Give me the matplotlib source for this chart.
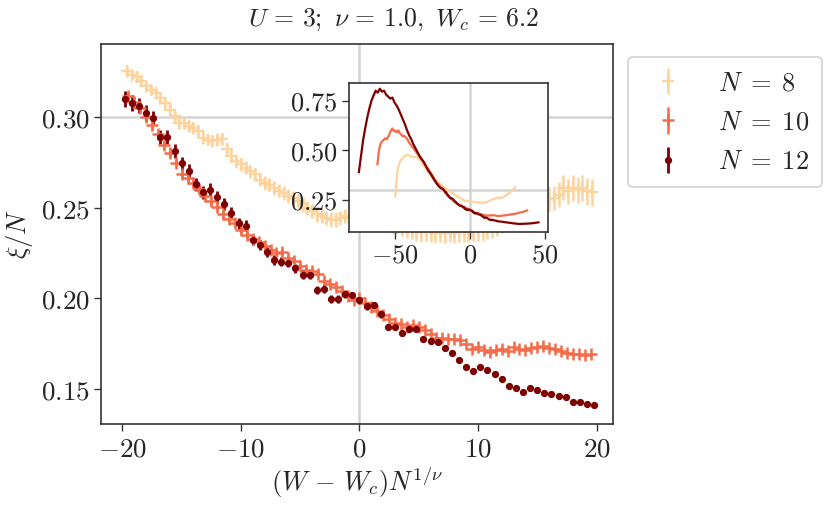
import matplotlib
matplotlib.use("Agg")
import matplotlib.pyplot as plt
from matplotlib.ticker import FixedLocator, FuncFormatter
import numpy as np

plt.rcParams["mathtext.fontset"] = "cm"
plt.rcParams["font.family"] = "serif"
plt.rcParams["font.serif"] = ["DejaVu Serif"]

# --- data ---------------------------------------------------------------
sizes = [8, 10, 12]
colors = ["#fdd49e", "#f46d4b", "#7f0000"]
labels = [r"$N\;=\;8$", r"$N\;=\;10$", r"$N\;=\;12$"]

# main panel: x = (W - Wc) N, W step 0.05 -> x step 0.05 N
x0 = {8: -19.6, 10: -19.5, 12: -19.8}

y8 = [0.3254, 0.3236, 0.3223, 0.3199, 0.3171, 0.3153, 0.3134, 0.3107, 0.3079, 0.3042,
      0.3005, 0.2969, 0.2969, 0.2950, 0.2941, 0.2923, 0.2886, 0.2877, 0.2867, 0.2877,
      0.2880, 0.2822, 0.2785, 0.2757, 0.2739, 0.2720, 0.2702, 0.2684, 0.2656, 0.2637,
      0.2628, 0.2610, 0.2595, 0.2582, 0.2564, 0.2554, 0.2536, 0.2518, 0.2500, 0.2481,
      0.2463, 0.2453, 0.2444, 0.2435, 0.2435, 0.2444, 0.2453, 0.2442, 0.2430, 0.2425,
      0.2420, 0.2418, 0.2415, 0.2410, 0.2408, 0.2405, 0.2400, 0.2398, 0.2390, 0.2380,
      0.2375, 0.2370, 0.2365, 0.2370, 0.2365, 0.2360, 0.2365, 0.2360, 0.2365, 0.2362,
      0.2368, 0.2370, 0.2365, 0.2372, 0.2375, 0.2378, 0.2385, 0.2392, 0.2405, 0.2420,
      0.2435, 0.2450, 0.2465, 0.2480, 0.2495, 0.2510, 0.2522, 0.2532, 0.2540, 0.2548,
      0.2555, 0.2573, 0.2610, 0.2591, 0.2610, 0.2600, 0.2610, 0.2591, 0.2585]
e8 = [0.0030, 0.0030, 0.0030, 0.0030, 0.0030, 0.0030, 0.0030, 0.0031, 0.0031, 0.0031,
      0.0031, 0.0032, 0.0032, 0.0032, 0.0032, 0.0033, 0.0033, 0.0033, 0.0033, 0.0034,
      0.0034, 0.0034, 0.0035, 0.0035, 0.0035, 0.0036, 0.0036, 0.0036, 0.0037, 0.0037,
      0.0037, 0.0038, 0.0038, 0.0038, 0.0039, 0.0039, 0.0040, 0.0040, 0.0040, 0.0040,
      0.0040, 0.0040, 0.0040, 0.0040, 0.0040, 0.0040, 0.0040, 0.0040, 0.0040, 0.0040,
      0.0040, 0.0040, 0.0040, 0.0040, 0.0040, 0.0040, 0.0042, 0.0044, 0.0046, 0.0048,
      0.0050, 0.0052, 0.0052, 0.0053, 0.0053, 0.0054, 0.0054, 0.0055, 0.0055, 0.0056,
      0.0056, 0.0057, 0.0057, 0.0058, 0.0058, 0.0059, 0.0059, 0.0059, 0.0060, 0.0060,
      0.0061, 0.0062, 0.0062, 0.0063, 0.0063, 0.0064, 0.0064, 0.0065, 0.0066, 0.0066,
      0.0067, 0.0068, 0.0069, 0.0070, 0.0071, 0.0072, 0.0073, 0.0074, 0.0075]

y10 = [0.3115, 0.3085, 0.3050, 0.3000, 0.2955, 0.2905, 0.2845, 0.2805, 0.2750, 0.2685,
       0.2665, 0.2635, 0.2605, 0.2565, 0.2535, 0.2505, 0.2465, 0.2440, 0.2415, 0.2375,
       0.2352, 0.2328, 0.2310, 0.2288, 0.2265, 0.2250, 0.2255, 0.2225, 0.2208, 0.2180,
       0.2158, 0.2150, 0.2135, 0.2095, 0.2078, 0.2060, 0.2040, 0.2015, 0.1990, 0.2000,
       0.1975, 0.1950, 0.1928, 0.1905, 0.1885, 0.1865, 0.1858, 0.1842, 0.1852, 0.1840,
       0.1825, 0.1805, 0.1782, 0.1778, 0.1772, 0.1772, 0.1770, 0.1745, 0.1722, 0.1730,
       0.1715, 0.1702, 0.1712, 0.1720, 0.1708, 0.1728, 0.1718, 0.1715, 0.1725, 0.1732,
       0.1735, 0.1725, 0.1718, 0.1710, 0.1698, 0.1690, 0.1690, 0.1686, 0.1690]
e10 = [0.0025, 0.0025, 0.0024, 0.0024, 0.0024, 0.0023, 0.0023, 0.0023, 0.0022, 0.0022,
       0.0022, 0.0021, 0.0021, 0.0021, 0.0020, 0.0020, 0.0020, 0.0019, 0.0019, 0.0019,
       0.0018, 0.0018, 0.0018, 0.0017, 0.0017, 0.0017, 0.0016, 0.0016, 0.0016, 0.0015,
       0.0015, 0.0015, 0.0014, 0.0014, 0.0014, 0.0013, 0.0013, 0.0013, 0.0012, 0.0012,
       0.0012, 0.0012, 0.0011, 0.0011, 0.0011, 0.0011, 0.0010, 0.0010, 0.0010, 0.0010,
       0.0010, 0.0009, 0.0009, 0.0009, 0.0009, 0.0009, 0.0009, 0.0009, 0.0008, 0.0008,
       0.0008, 0.0008, 0.0008, 0.0008, 0.0008, 0.0008, 0.0008, 0.0008, 0.0008, 0.0008,
       0.0008, 0.0008, 0.0008, 0.0008, 0.0008, 0.0008, 0.0008, 0.0008, 0.0008]

y12 = [0.3100, 0.3080, 0.3065, 0.3025, 0.2995, 0.2890, 0.2890, 0.2815, 0.2745, 0.2705,
       0.2630, 0.2585, 0.2600, 0.2560, 0.2522, 0.2472, 0.2415, 0.2401, 0.2323, 0.2295,
       0.2256, 0.2212, 0.2202, 0.2195, 0.2165, 0.2131, 0.2128, 0.2047, 0.2053, 0.1994,
       0.1994, 0.2021, 0.2016, 0.1988, 0.1957, 0.1962, 0.1911, 0.1840, 0.1840, 0.1809,
       0.1828, 0.1828, 0.1772, 0.1763, 0.1759, 0.1723, 0.1699, 0.1656, 0.1620, 0.1597,
       0.1620, 0.1603, 0.1579, 0.1555, 0.1513, 0.1505, 0.1482, 0.1505, 0.1491, 0.1476,
       0.1472, 0.1459, 0.1454, 0.1426, 0.1426, 0.1417, 0.1410]
e12 = [0.0045, 0.0045, 0.0042, 0.0042, 0.0040, 0.0040, 0.0040, 0.0038, 0.0038, 0.0036,
       0.0035, 0.0034, 0.0034, 0.0033, 0.0032, 0.0031, 0.0030, 0.0030, 0.0029, 0.0028,
       0.0027, 0.0026, 0.0026, 0.0025, 0.0025, 0.0024, 0.0024, 0.0023, 0.0023, 0.0022,
       0.0022, 0.0021, 0.0021, 0.0020, 0.0020, 0.0019, 0.0019, 0.0018, 0.0018, 0.0017,
       0.0017, 0.0016, 0.0016, 0.0015, 0.0015, 0.0014, 0.0014, 0.0013, 0.0013, 0.0012,
       0.0012, 0.0012, 0.0011, 0.0011, 0.0011, 0.0010, 0.0010, 0.0010, 0.0010, 0.0010,
       0.0009, 0.0009, 0.0009, 0.0009, 0.0009, 0.0009, 0.0009]

# inset: parts of the full W range that fall outside the main window
tail8_lx = [-50.0, -49.5, -49.0, -48.5, -48.0, -47.0, -46.0, -45.0, -44.0, -43.0, -42.0,
            -41.0, -40.0, -39.0, -38.0, -37.0, -36.0, -35.0, -34.0, -33.0, -32.0, -31.0,
            -30.0, -29.0, -28.0, -27.0, -26.0, -25.0, -24.0, -23.0, -22.0, -21.0, -20.0]
tail8_ly = [0.267, 0.330, 0.370, 0.400, 0.420, 0.440, 0.455, 0.462, 0.470, 0.474, 0.476,
            0.475, 0.470, 0.468, 0.466, 0.465, 0.466, 0.462, 0.455, 0.445, 0.432, 0.420,
            0.410, 0.400, 0.390, 0.380, 0.370, 0.360, 0.352, 0.345, 0.340, 0.333, 0.328]
tail8_rx = [20.0, 21.5, 23.0, 24.5, 26.0, 27.5, 29.0, 30.0]
tail8_ry = [0.259, 0.262, 0.268, 0.276, 0.285, 0.295, 0.305, 0.315]

tail10_lx = [-62.0, -61.0, -60.0, -59.0, -58.0, -57.0, -56.0, -55.0, -54.0, -53.0, -52.0,
             -51.0, -50.0, -49.0, -48.0, -47.0, -46.0, -45.0, -44.0, -43.0, -42.0, -41.0,
             -40.0, -38.5, -37.0, -35.5, -34.0, -32.5, -31.0, -29.5, -28.0, -26.5, -25.0,
             -23.5, -22.0, -20.5]
tail10_ly = [0.430, 0.500, 0.530, 0.545, 0.550, 0.560, 0.555, 0.565, 0.580, 0.600, 0.610,
             0.595, 0.600, 0.590, 0.600, 0.585, 0.578, 0.570, 0.572, 0.565, 0.555, 0.540,
             0.530, 0.515, 0.500, 0.485, 0.470, 0.455, 0.440, 0.420, 0.405, 0.388, 0.370,
             0.352, 0.335, 0.322]
tail10_rx = [20.5, 23.0, 25.5, 28.0, 30.5, 33.0, 35.5, 38.0]
tail10_ry = [0.170, 0.172, 0.175, 0.178, 0.181, 0.186, 0.190, 0.197]

tail12_lx = [-74.4, -73.0, -71.6, -70.2, -68.8, -67.4, -66.0, -64.6, -63.2, -61.8, -60.4,
             -59.0, -57.6, -56.2, -54.8, -53.4, -52.0, -50.6, -49.2, -47.8, -46.4, -45.0,
             -43.6, -42.2, -40.8, -39.4, -38.0, -36.6, -35.2, -33.8, -32.4, -31.0, -29.6,
             -28.2, -26.8, -25.4, -24.0, -22.6, -21.2]
tail12_ly = [0.390, 0.470, 0.550, 0.610, 0.665, 0.710, 0.750, 0.775, 0.800, 0.790, 0.810,
             0.795, 0.800, 0.780, 0.770, 0.760, 0.765, 0.740, 0.725, 0.705, 0.680, 0.655,
             0.630, 0.600, 0.575, 0.555, 0.530, 0.510, 0.490, 0.470, 0.455, 0.440, 0.420,
             0.400, 0.385, 0.368, 0.350, 0.334, 0.320]
tail12_rx = [21.0, 24.0, 27.0, 30.0, 33.0, 36.0, 39.0, 42.0, 45.6]
tail12_ry = [0.1405, 0.1370, 0.1340, 0.1310, 0.1290, 0.1300, 0.1310, 0.1330, 0.1370]

main_y = {8: y8, 10: y10, 12: y12}
main_e = {8: e8, 10: e10, 12: e12}
tails = {8: (tail8_lx, tail8_ly, tail8_rx, tail8_ry),
         10: (tail10_lx, tail10_ly, tail10_rx, tail10_ry),
         12: (tail12_lx, tail12_ly, tail12_rx, tail12_ry)}
dW = 0.05

# --- figure ------------------------------------------------------------------
fig = plt.figure(figsize=(8.3, 5.09), dpi=100)
ax = fig.add_axes([0.1217, 0.167, 0.617, 0.7466])
ins = fig.add_axes([0.4205, 0.5448, 0.2398, 0.2927])

grid_kw = dict(color="#d4d4d4", lw=1.8, zorder=0)
for a in (ax, ins):
    a.axhline(0.3, **grid_kw)
    a.axvline(0.0, **grid_kw)

styles = {8: dict(fmt="+", ms=9, mew=1.6, elinewidth=1.8),
          10: dict(fmt="+", ms=9, mew=1.8, elinewidth=1.8),
          12: dict(fmt="o", ms=4.2, elinewidth=2.0)}

for N, c, lab in zip(sizes, colors, labels):
    y = np.array(main_y[N])
    x = x0[N] + N * dW * np.arange(len(y))
    ax.errorbar(x, y, yerr=main_e[N], color=c, capsize=0, label=lab, **styles[N])

    lx, ly, rx, ry = tails[N]
    xf = np.concatenate([lx, x, rx])
    yf = np.concatenate([ly, y, ry])
    ins.plot(xf, yf, color=c, lw=1.6)

ax.set_xlim(-21.8, 21.4)
ax.set_ylim(0.1305, 0.3405)
ax.xaxis.set_major_locator(FixedLocator([-20, -10, 0, 10, 20]))
ax.yaxis.set_major_locator(FixedLocator([0.15, 0.20, 0.25, 0.30]))
ax.xaxis.set_major_formatter(FuncFormatter(lambda v, p: r"$%d$" % int(round(v))))
ax.yaxis.set_major_formatter(FuncFormatter(lambda v, p: r"$%.2f$" % v))

ins.set_xlim(-81, 52)
ins.set_ylim(0.09, 0.84)
ins.xaxis.set_major_locator(FixedLocator([-50, 0, 50]))
ins.yaxis.set_major_locator(FixedLocator([0.25, 0.50, 0.75]))
ins.xaxis.set_major_formatter(FuncFormatter(lambda v, p: r"$%d$" % int(round(v))))
ins.yaxis.set_major_formatter(FuncFormatter(lambda v, p: r"$%.2f$" % v))

for a, fs in ((ax, 19.5), (ins, 19)):
    a.tick_params(direction="out", length=5, width=1, colors="0.2",
                  labelsize=fs, labelcolor="0.15", pad=3)
    for s in a.spines.values():
        s.set_color("0.2")
        s.set_linewidth(1.2)

fig.text(0.4735, 0.961, r"$U\,=\,3;\ \nu\,=\,1.0,\ W_c\,=\,6.2$",
         fontsize=18.5, color="0.15", ha="center", va="center")
ax.set_xlabel(r"$(W\,-\,W_c)N^{1/\nu}$", fontsize=19, color="0.15", labelpad=2)
ax.set_ylabel(r"$\xi/N$", fontsize=19, color="0.15", labelpad=4)

leg = ax.legend(loc="upper left", bbox_to_anchor=(0.7566, 0.888),
                bbox_transform=fig.transFigure, borderaxespad=0, fontsize=19,
                frameon=True, fancybox=True, labelspacing=0.55, handlelength=2.0,
                handletextpad=0.9, borderpad=0.5)
leg.get_frame().set_edgecolor("#cccccc")
leg.get_frame().set_linewidth(1.3)
for t in leg.get_texts():
    t.set_color("0.15")

fig.savefig("out.png", dpi=100)
